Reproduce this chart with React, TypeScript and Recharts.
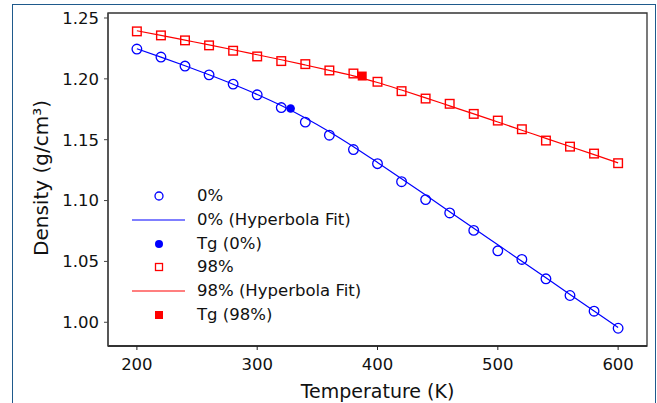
import React from "react";
import { ComposedChart, Line, Scatter, XAxis, YAxis, ReferenceArea } from "recharts";

// temperatures (K) where densities were measured
const temps = [200, 220, 240, 260, 280, 300, 320, 340, 360, 380, 400, 420, 440, 460, 480, 500, 520, 540, 560, 580, 600];

// measured density (g/cm3)
const density0 = [1.2245, 1.2179, 1.2105, 1.2033, 1.1957, 1.1869, 1.1764, 1.1644, 1.1537, 1.1419, 1.1303, 1.1155, 1.1008, 1.0898, 1.0755, 1.0587, 1.0516, 1.0357, 1.022, 1.0091, 0.9951];
const density98 = [1.239, 1.2357, 1.2316, 1.2275, 1.2231, 1.2184, 1.2146, 1.2121, 1.2069, 1.2044, 1.1976, 1.1899, 1.1838, 1.1795, 1.1712, 1.1657, 1.1586, 1.1493, 1.1443, 1.1386, 1.1307];

// hyperbola fit curves
const fit0 = [1.2247, 1.2179, 1.2108, 1.2034, 1.1956, 1.1872, 1.1781, 1.1679, 1.1566, 1.1443, 1.1313, 1.118, 1.1045, 1.0909, 1.0773, 1.0637, 1.0501, 1.0365, 1.0229, 1.0093, 0.9957];
const fit98 = [1.2395, 1.2357, 1.2318, 1.2279, 1.2239, 1.2198, 1.2157, 1.2114, 1.207, 1.2025, 1.197, 1.1908, 1.1844, 1.1778, 1.1712, 1.1645, 1.1578, 1.1511, 1.1444, 1.1377, 1.131];

// glass transition points [T, density]
const tg0 = [327.8, 1.1756];
const tg98 = [387.3, 1.2023];

const xTicks = [200, 300, 400, 500, 600];
const yTicks = [1.0, 1.05, 1.1, 1.15, 1.2, 1.25];
const xDomain = [176, 624];
const yDomain = [0.9805, 1.2541];

const BLUE = "#0000ff";
const RED = "#ff0000";
const FONT = "'DejaVu Sans', sans-serif";

const pts0 = temps.map((t, i) => ({ t, d: density0[i] }));
const pts98 = temps.map((t, i) => ({ t, d: density98[i] }));
const line0 = temps.map((t, i) => ({ t, d: fit0[i] }));
const line98 = temps.map((t, i) => ({ t, d: fit98[i] }));
const tgPts0 = [{ t: tg0[0], d: tg0[1] }];
const tgPts98 = [{ t: tg98[0], d: tg98[1] }];

const legendItems = [
    { label: "0%", kind: "openCircle", color: BLUE },
    { label: "0% (Hyperbola Fit)", kind: "line", color: BLUE },
    { label: "Tg (0%)", kind: "dot", color: BLUE },
    { label: "98%", kind: "openSquare", color: RED },
    { label: "98% (Hyperbola Fit)", kind: "line", color: RED },
    { label: "Tg (98%)", kind: "square", color: RED },
];

function LegendIcon({ kind, color }: { kind: string; color: string }) {
    return (
        <svg width={56} height={24} style={{ display: "block" }}>
            {kind === "openCircle" && <circle cx={27} cy={12} r={4} fill="none" stroke={color} strokeWidth={1.3} />}
            {kind === "line" && <line x1={0} x2={53} y1={12} y2={12} stroke={color} strokeWidth={1.2} />}
            {kind === "dot" && <circle cx={27} cy={12} r={4} fill={color} />}
            {kind === "openSquare" && <rect x={23.5} y={8.5} width={7} height={7} fill="none" stroke={color} strokeWidth={1.3} />}
            {kind === "square" && <rect x={23} y={8} width={8} height={8} fill={color} />}
        </svg>
    );
}

export default function App() {
    return (
        <div style={{ position: "absolute", left: 0, top: 0, width: 657, height: 403, overflow: "hidden", background: "#fff", fontFamily: FONT }}>
            <div style={{ position: "absolute", left: 12, top: 4, width: 644, height: 480, border: "1.5px solid #1f5a8c", boxSizing: "border-box" }} />
            <ComposedChart width={657} height={403} margin={{ top: 13, right: 10, left: 0, bottom: 0 }}>
                <XAxis
                    dataKey="t"
                    type="number"
                    domain={xDomain}
                    ticks={xTicks}
                    allowDataOverflow
                    height={57}
                    tickSize={4}
                    tickMargin={8}
                    tick={{ fontSize: 16.5, fill: "#111", fontFamily: FONT }}
                    axisLine={{ stroke: "#222", strokeWidth: 1.3 }}
                    tickLine={{ stroke: "#222" }}
                    label={{ value: "Temperature (K)", position: "insideBottom", offset: 5, fontSize: 19, fill: "#111", fontFamily: FONT }}
                />
                <YAxis
                    dataKey="d"
                    type="number"
                    domain={yDomain}
                    ticks={yTicks}
                    allowDataOverflow
                    width={108}
                    tickSize={4}
                    tickMargin={5}
                    tickFormatter={(v) => v.toFixed(2)}
                    tick={{ fontSize: 16.5, fill: "#111", fontFamily: FONT }}
                    axisLine={{ stroke: "#444", strokeWidth: 1.3 }}
                    tickLine={{ stroke: "#444" }}
                    label={{
                        content: () => (
                            <text x={48} y={178} transform="rotate(-90 48 178)" textAnchor="middle" fontSize={20} fill="#111" fontFamily={FONT}>
                                Density (g/cm³)
                            </text>
                        ),
                    }}
                />
                <ReferenceArea x1={xDomain[0]} x2={xDomain[1]} y1={yDomain[0]} y2={yDomain[1]} fill="none" stroke="#333" strokeWidth={1.3} />
                <Line data={line0} dataKey="d" type="monotone" stroke={BLUE} strokeWidth={1.2} dot={false} isAnimationActive={false} />
                <Line data={line98} dataKey="d" type="monotone" stroke={RED} strokeWidth={1.2} dot={false} isAnimationActive={false} />
                <Scatter
                    data={pts0}
                    dataKey="d"
                    isAnimationActive={false}
                    shape={(p: any) => <circle cx={p.cx} cy={p.cy} r={4.8} fill="none" stroke={BLUE} strokeWidth={1.3} />}
                />
                <Scatter
                    data={pts98}
                    dataKey="d"
                    isAnimationActive={false}
                    shape={(p: any) => <rect x={p.cx - 4.3} y={p.cy - 4.3} width={8.6} height={8.6} fill="none" stroke={RED} strokeWidth={1.4} />}
                />
                <Scatter
                    data={tgPts0}
                    dataKey="d"
                    isAnimationActive={false}
                    shape={(p: any) => <circle cx={p.cx} cy={p.cy} r={4.3} fill={BLUE} />}
                />
                <Scatter
                    data={tgPts98}
                    dataKey="d"
                    isAnimationActive={false}
                    shape={(p: any) => <rect x={p.cx - 4.5} y={p.cy - 4.5} width={9} height={9} fill={RED} />}
                />
            </ComposedChart>
            <div style={{ position: "absolute", left: 132, top: 184, fontSize: 16.5, color: "#111" }}>
                {legendItems.map((it) => (
                    <div key={it.label} style={{ display: "flex", alignItems: "center", height: 23.8 }}>
                        <LegendIcon kind={it.kind} color={it.color} />
                        <span style={{ marginLeft: 9, lineHeight: "24px" }}>{it.label}</span>
                    </div>
                ))}
            </div>
        </div>
    );
}
